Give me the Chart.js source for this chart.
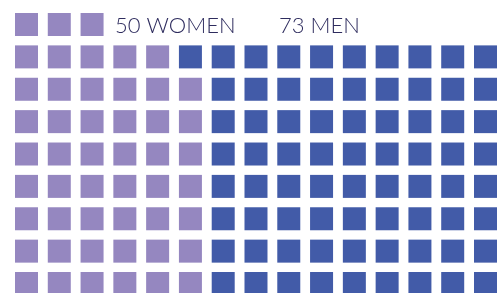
<!DOCTYPE html>
<html>
<head>
<meta charset="utf-8">
<script src="https://cdn.jsdelivr.net/npm/chart.js@4/dist/chart.umd.min.js"></script>
<style>
  html, body { margin: 0; padding: 0; background: #ffffff; }
  #wrap { width: 497px; height: 293px; position: relative; }
</style>
</head>
<body>
<div id="wrap"><canvas id="c" width="497" height="293"></canvas></div>
<script>
// ---- data ----
const categories = ["WOMEN", "MEN"];
const counts = [50, 73];
const colors = ["#9587C0", "#425BA8"];
const gridColumns = 15;
const gridRows = 9;
const labelColumns = [3, 8]; // grid column where each label starts (top row)
const openTopColumns = 3;    // top row only holds squares in the first columns

// waffle layout: fill column by column, bottom to top
const cells = [];
for (let c = 0; c < gridColumns; c++) {
  for (let r = gridRows - 1; r >= 0; r--) {
    if (r === 0 && c >= openTopColumns) continue;
    cells.push({ x: c, y: r });
  }
}
const datasets = [];
let k = 0;
categories.forEach((cat, i) => {
  const pts = cells.slice(k, k + counts[i]);
  k += counts[i];
  datasets.push({
    label: cat,
    data: pts,
    backgroundColor: colors[i],
    borderWidth: 0,
    pointStyle: 'rect',
    pointRadius: 23 / Math.SQRT2,
    pointHoverRadius: 23 / Math.SQRT2,
    clip: false
  });
});

const labelPlugin = {
  id: 'waffleLabels',
  afterDatasetsDraw(chart) {
    const ctx = chart.ctx;
    const xs = chart.scales.x, ys = chart.scales.y;
    ctx.save();
    ctx.fillStyle = '#2E2C5E';
    ctx.font = '300 22px Lato, "Liberation Sans", sans-serif';
    ctx.textBaseline = 'middle';
    ctx.textAlign = 'left';
    categories.forEach((cat, i) => {
      const x = xs.getPixelForValue(labelColumns[i] - 0.3);
      const y = ys.getPixelForValue(0);
      ctx.fillText(counts[i] + ' ' + cat, x, y + 1);
    });
    ctx.restore();
  }
};

new Chart(document.getElementById('c'), {
  type: 'scatter',
  data: { datasets },
  options: {
    responsive: false,
    animation: false,
    layout: { padding: 0, autoPadding: false },
    plugins: { legend: { display: false }, tooltip: { enabled: false } },
    scales: {
      x: { type: 'linear', display: false, min: -0.808, max: 14.351 },
      y: { type: 'linear', display: false, reverse: true, min: -0.757, max: 8.293 }
    }
  },
  plugins: [labelPlugin]
});
</script>
</body>
</html>
